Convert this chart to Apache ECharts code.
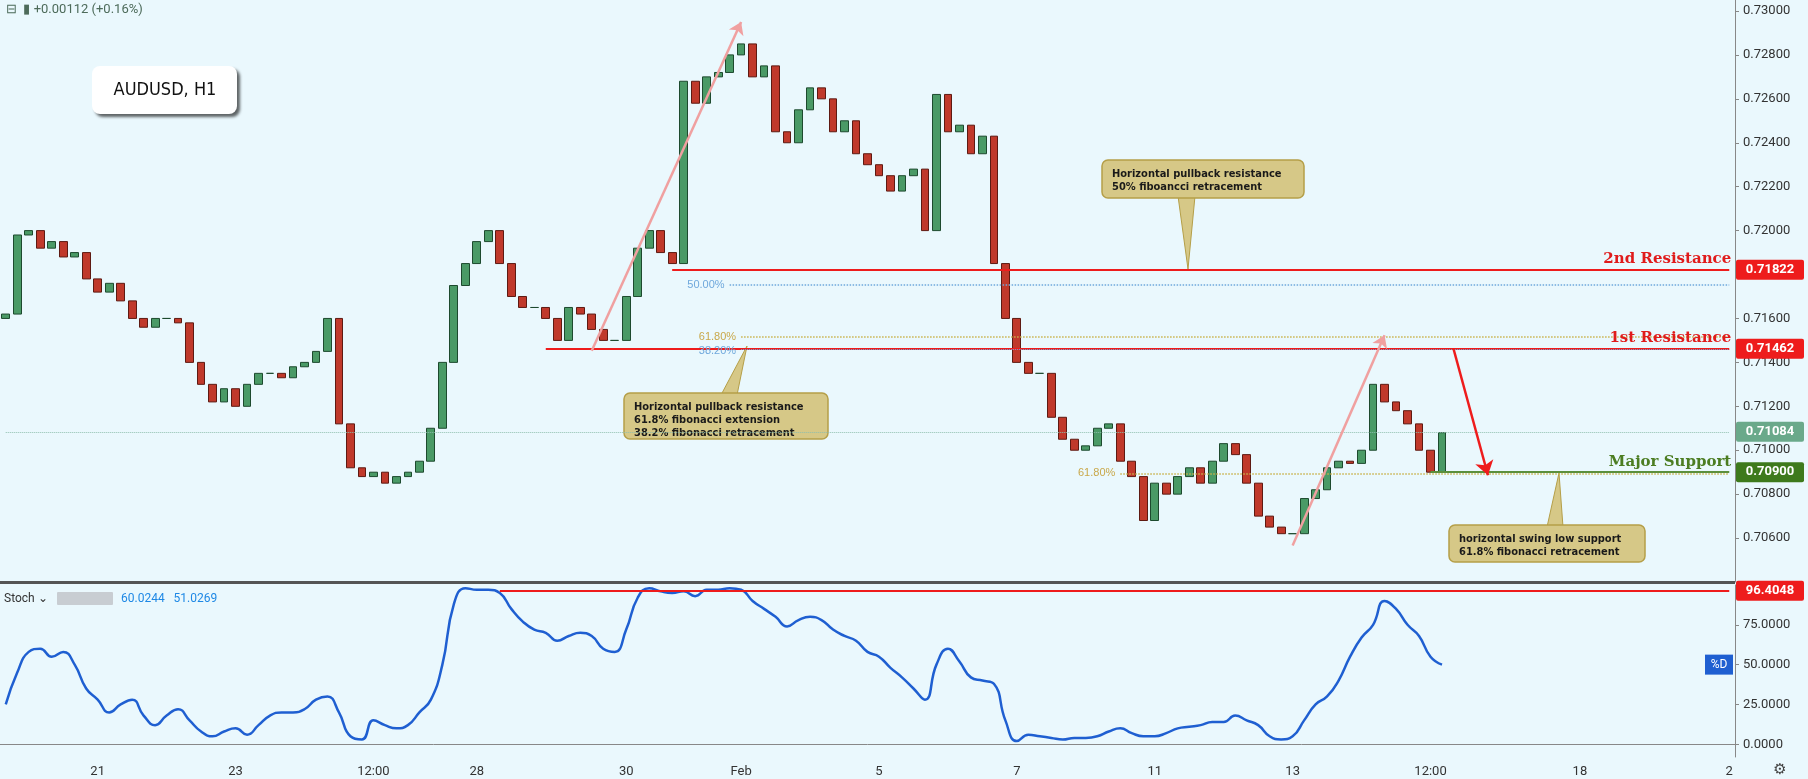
<!DOCTYPE html>
<html><head><meta charset="utf-8">
<script src="https://cdn.jsdelivr.net/npm/echarts@6/dist/echarts.min.js"></script>
<style>html,body{margin:0;padding:0;background:#eaf8fd}#c{width:1808px;height:779px}</style>
</head><body><div id="c"></div>
<script>
// closes (one candle per 4 hours)
const closes=[0.7162,0.7198,0.7200,0.7192,0.7195,0.7188,0.7190,0.7178,0.7172,0.7176,0.7168,0.7160,0.7156,0.7160,0.7160,0.7158,0.7140,0.7130,0.7122,0.7128,0.7120,0.7130,0.7135,0.7135,0.7133,0.7138,0.7140,0.7145,0.7160,0.7112,0.7092,0.7088,0.7090,0.7085,0.7088,0.7090,0.7095,0.7110,0.7140,0.7175,0.7185,0.7195,0.7200,0.7185,0.7170,0.7165,0.7165,0.7160,0.7150,0.7165,0.7162,0.7155,0.7150,0.7150,0.7170,0.7192,0.7200,0.7190,0.7185,0.7268,0.7258,0.7270,0.7272,0.7280,0.7285,0.7270,0.7275,0.7245,0.7240,0.7255,0.7265,0.7260,0.7245,0.7250,0.7235,0.7230,0.7225,0.7218,0.7225,0.7228,0.7200,0.7262,0.7245,0.7248,0.7235,0.7243,0.7185,0.7160,0.7140,0.7135,0.7135,0.7115,0.7105,0.7100,0.7102,0.7110,0.7112,0.7095,0.7088,0.7068,0.7085,0.7080,0.7088,0.7092,0.7085,0.7095,0.7103,0.7098,0.7085,0.7070,0.7065,0.7062,0.7062,0.7078,0.7082,0.7092,0.7095,0.7094,0.7100,0.7130,0.7122,0.7118,0.7112,0.7100,0.7090,0.7108];
const firstOpen=0.7160;
const stochD=[25,45,58,60,55,58,50,35,28,20,25,28,18,12,18,22,15,8,5,8,10,6,12,18,20,20,22,28,30,20,5,3,15,12,10,12,20,28,50,88,98,97,97,95,85,77,72,70,65,68,70,68,60,58,72,92,98,96,95,96,93,97,97,98,97,90,85,80,74,78,80,78,72,68,65,58,55,48,42,35,28,50,60,52,42,40,38,15,2,6,5,4,3,4,4,5,8,10,7,5,5,7,10,11,12,14,14,18,15,12,5,3,5,15,25,30,40,55,67,75,90,85,75,68,55,50];
const tickIdx=[8,20,32,41,54,64,76,88,100,112,124,137,150];
const tickTxt=['21','23','12:00','28','30','Feb','5','7','11','13','12:00','18','2'];
const nCat=151;
const levels={r2:0.71822,r1:0.71462,sup:0.70900,last:0.71084,fib50:0.71753,fib618a:0.71517,fib618b:0.70895,stochTop:96.4048};

const cats=[];for(let i=0;i<nCat;i++){const k=tickIdx.indexOf(i);cats.push(k>=0?tickTxt[k]:'c'+i);}
const ohlc=closes.map((c,i)=>{const o=i?closes[i-1]:firstOpen;return [o,c,Math.min(o,c),Math.max(o,c)];});
const S=1.153,P=v=>Math.round(v*S);
const chart=echarts.init(document.getElementById('c'));
const lbl={color:'#333',fontSize:13,fontFamily:'Roboto'};
const ml=(a,b,y,color,w,type,label)=>({data:[[{coord:[a,y]},{coord:[b,y]}]],symbol:'none',silent:true,lineStyle:{color,width:w,type},label:label||{show:false}});
const endLbl=t=>({show:true,position:'insideEndTop',formatter:t,color:t==='Major Support'?'#4c7d22':'#e01b1b',fontSize:15,fontWeight:'bold',fontFamily:'DejaVu Serif',distance:[-2,3]});
chart.setOption({
 backgroundColor:'#eaf8fd',animation:false,
 grid:[{left:0,right:73,top:0,height:582},{left:0,right:73,top:585,height:172}],
 xAxis:[{type:'category',data:cats,gridIndex:0,axisLine:{show:false},axisTick:{show:false},axisLabel:{show:false},splitLine:{show:false}},
        {type:'category',data:cats,gridIndex:1,axisLine:{lineStyle:{color:'#888'}},axisTick:{show:false},
         axisLabel:{interval:0,formatter:v=>v[0]==='c'?'':v,...lbl,margin:8}}],
 yAxis:[{type:'value',gridIndex:0,position:'right',min:0.704,max:0.7305,interval:0.002,scale:true,
         axisLine:{show:true,lineStyle:{color:'#888'}},axisTick:{show:true,length:4,lineStyle:{color:'#888'}},splitLine:{show:false},
         axisLabel:{...lbl,formatter:v=>v.toFixed(5),showMaxLabel:false,showMinLabel:false}},
        {type:'value',gridIndex:1,position:'right',min:-8,max:100,
         axisLine:{show:true,lineStyle:{color:'#888'}},splitLine:{show:false},
         axisTick:{show:true,customValues:[0,25,50,75],length:4},
         axisLabel:{...lbl,customValues:[0,25,50,75],formatter:v=>v.toFixed(4)}}],
 series:[
  {type:'candlestick',xAxisIndex:0,yAxisIndex:0,data:ohlc,barWidth:'72%',
   itemStyle:{color:'#4a9a66',color0:'#c0392b',borderColor:'#1d4a2e',borderColor0:'#5e1a12',borderWidth:1},
   markLine:ml(0,150,levels.last,'#8fbfae',1,'dotted')},
  {type:'line',xAxisIndex:0,yAxisIndex:0,data:[],markLine:ml(58,150,levels.r2,'#ee1c1c',2,'solid',endLbl('2nd Resistance'))},
  {type:'line',xAxisIndex:0,yAxisIndex:0,data:[],markLine:ml(47,150,levels.r1,'#ee1c1c',2,'solid',endLbl('1st Resistance'))},
  {type:'line',xAxisIndex:0,yAxisIndex:0,data:[],markLine:ml(124,150,levels.sup,'#5b8f3c',2,'solid',endLbl('Major Support'))},
  {type:'line',xAxisIndex:0,yAxisIndex:0,data:[],markLine:ml(63,150,levels.fib50,'#6fa8dc',1.5,'dotted',{show:true,position:'start',formatter:'50.00%',color:'#6fa8dc',fontSize:11})},
  {type:'line',xAxisIndex:0,yAxisIndex:0,data:[],markLine:ml(64,150,levels.fib618a,'#c9b24a',1.5,'dotted',{show:true,position:'start',formatter:'61.80%',color:'#c9a84a',fontSize:11})},
  {type:'line',xAxisIndex:0,yAxisIndex:0,data:[],markLine:ml(64,150,levels.r1,'#6fa8dc',1,'dotted',{show:true,position:'start',formatter:'38.20%',color:'#6fa8dc',fontSize:11,offset:[0,2]})},
  {type:'line',xAxisIndex:0,yAxisIndex:0,data:[],markLine:ml(97,150,levels.fib618b,'#c9b24a',1.5,'dotted',{show:true,position:'start',formatter:'61.80%',color:'#c9a84a',fontSize:11})},
  {type:'line',xAxisIndex:0,yAxisIndex:0,data:[],markLine:{symbol:['none','arrow'],symbolSize:12,silent:true,label:{show:false},
    lineStyle:{color:'#f0a0a0',width:2.5,type:'solid'},
    data:[[{coord:[51,0.71453]},{coord:[64,0.72950]}],[{coord:[112,0.70566]},{coord:[120,0.71524]}]]}},
  {type:'line',xAxisIndex:0,yAxisIndex:0,data:[],markLine:{symbol:['none','arrow'],symbolSize:14,silent:true,label:{show:false},
    lineStyle:{color:'#ee1c1c',width:2.5,type:'solid'},data:[[{coord:[126,0.71462]},{coord:[129,0.70886]}]]}},
  {type:'line',xAxisIndex:1,yAxisIndex:1,data:stochD,smooth:0.5,showSymbol:false,lineStyle:{color:'#1f5fd1',width:2.5},
   markLine:ml(43,150,levels.stochTop,'#ee1c1c',2,'solid')}
 ]
});
function yPix(v,idx){return chart.convertToPixel({xAxisIndex:idx,yAxisIndex:idx},[0,v])[1];}
function tag(v,idx,txt,fill){const y=yPix(v,idx);return [{type:'rect',z:100,shape:{x:1736,y:y-10,width:68,height:20,r:2},style:{fill}},
 {type:'text',z:101,x:1770,y:y,style:{text:txt,fill:'#fff',font:'bold 13px Roboto',align:'center',verticalAlign:'middle'}}];}
function box(x,y,w,h,tx,ty,bx,lines,up){const by=up?P(y)+2:P(y+h)-2;return [
 {type:'polygon',shape:{points:[[P(bx),by],[P(bx+14),by],[P(tx),P(ty)]]},style:{fill:'#d6c887',stroke:'#b59f48',lineWidth:1}},
 {type:'rect',shape:{x:P(x),y:P(y),width:P(w),height:P(h),r:6},style:{fill:'#d6c887',stroke:'#b59f48',lineWidth:1.5}},
 {type:'text',x:P(x)+10,y:P(y)+8,style:{text:lines.join('\n'),fill:'#1a1a1a',font:'bold 11px "DejaVu Sans Condensed", "DejaVu Sans"',lineHeight:13}}];}
const g=[
 {type:'rect',shape:{x:0,y:581,width:1735,height:3},style:{fill:'#555'}},
 {type:'text',x:6,y:3,style:{text:'⊟  ▮ +0.00112 (+0.16%)',fill:'#4d6b5a',font:'13px Roboto'}},
 {type:'rect',shape:{x:P(80),y:P(57),width:P(126),height:P(42),r:8},style:{fill:'#fff',shadowBlur:3,shadowOffsetX:3,shadowOffsetY:3,shadowColor:'rgba(0,0,0,0.6)'}},
 {type:'text',x:P(143),y:P(78),style:{text:'AUDUSD, H1',fill:'#111',font:'18px "Liberation Sans Narrow", "DejaVu Sans Condensed"',align:'center',verticalAlign:'middle'}},
 {type:'text',x:4,y:593,style:{text:'Stoch ⌄',fill:'#333',font:'12px Roboto'}},
 {type:'rect',shape:{x:57,y:592,width:56,height:13,r:1},style:{fill:'#c8cdd2'}},
 {type:'text',x:121,y:593,style:{text:'60.0244   51.0269',fill:'#1e88e5',font:'12px Roboto'}},
 ...box(541,341,177,40,648,300,625,['Horizontal pullback resistance','61.8% fibonacci extension','38.2% fibonacci retracement'],true),
 ...box(956,139,175,33,1030,233,1022,['Horizontal pullback resistance','50% fiboancci retracement'],false),
 ...box(1257,455,170,32,1352,410,1342,['horizontal swing low support','61.8% fibonacci retracement'],true),
 ...tag(levels.r2,0,'0.71822','#ee1c1c'),...tag(levels.r1,0,'0.71462','#ee1c1c'),
 ...tag(levels.last,0,'0.71084','#6aa98a'),...tag(levels.sup,0,'0.70900','#3e7a1c'),
 ...tag(levels.stochTop,1,'96.4048','#ee1c1c'),
 {type:'rect',shape:{x:1705,y:yPix(50,1)-10,width:28,height:20},style:{fill:'#1f5fd1'}},
 {type:'text',x:1719,y:yPix(50,1),style:{text:'%D',fill:'#fff',font:'12px Roboto',align:'center',verticalAlign:'middle'}},
 {type:'text',x:1780,y:770,style:{text:'⚙',fill:'#444',font:'15px DejaVu Sans',align:'center',verticalAlign:'middle'}}
];
chart.setOption({graphic:g});
</script></body></html>
